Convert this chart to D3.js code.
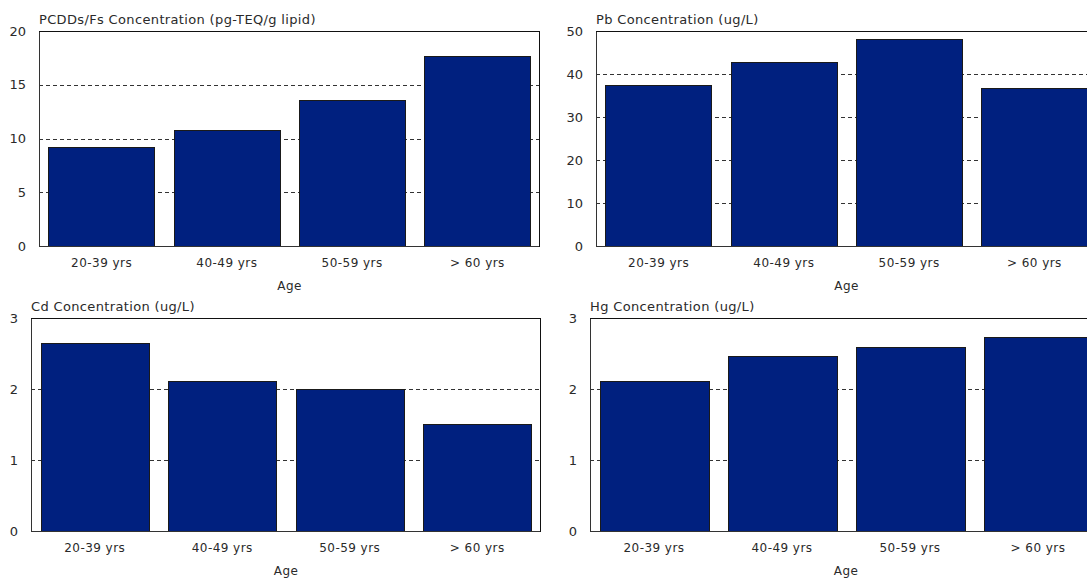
<!DOCTYPE html>
<html><head><meta charset="utf-8">
<script src="https://cdn.jsdelivr.net/npm/d3@7"></script>
<style>
body{margin:0;background:#fff;}
svg text{font-family:"DejaVu Sans",sans-serif;fill:#2a2a2a;}
</style></head>
<body><svg id="c" width="1087" height="578"></svg>
<script>
const categories = ["20-39 yrs","40-49 yrs","50-59 yrs","> 60 yrs"];
const pcddValues = [9.2, 10.8, 13.6, 17.7];
const pbValues = [37.4, 42.8, 48.1, 36.7];
const cdValues = [2.65, 2.11, 2.0, 1.51];
const hgValues = [2.11, 2.46, 2.59, 2.73];
const pcddTicks = [0,5,10,15,20];
const pbTicks = [0,10,20,30,40,50];
const cdTicks = [0,1,2,3];
const hgTicks = [0,1,2,3];
const titles = ["PCDDs/Fs Concentration (pg-TEQ/g lipid)","Pb Concentration (ug/L)","Cd Concentration (ug/L)","Hg Concentration (ug/L)"];
const xTitle = "Age";

const panels = [
  {title:titles[0], values:pcddValues, ticks:pcddTicks, l:39, r:540, t:31, b:246},
  {title:titles[1], values:pbValues, ticks:pbTicks, l:596, r:1097, t:31, b:246},
  {title:titles[2], values:cdValues, ticks:cdTicks, l:31, r:541, t:318, b:531},
  {title:titles[3], values:hgValues, ticks:hgTicks, l:590, r:1102, t:318, b:531}
];

const svg = d3.select("#c");
panels.forEach(p => {
  const g = svg.append("g");
  const x = d3.scaleBand().domain(categories).range([p.l, p.r]).paddingInner(0.15).paddingOuter(0.075);
  const y = d3.scaleLinear().domain([0, d3.max(p.ticks)]).range([p.b, p.t]);
  // grid
  g.selectAll("line.grid").data(p.ticks.filter(t => t > 0 && t < d3.max(p.ticks))).join("line")
    .attr("x1", p.l).attr("x2", p.r)
    .attr("y1", d => Math.round(y(d)) + 0.5).attr("y2", d => Math.round(y(d)) + 0.5)
    .attr("stroke", "#333").attr("stroke-dasharray", "4,3");
  // bars
  g.selectAll("rect.bar").data(p.values).join("rect")
    .attr("x", (d,i) => Math.round(x(categories[i])) + 0.5)
    .attr("y", d => Math.round(y(d)) + 0.5)
    .attr("width", Math.round(x.bandwidth()))
    .attr("height", d => Math.round(y(0)) - Math.round(y(d)))
    .attr("fill", "#00207f").attr("stroke", "#1a1a1a").attr("stroke-width", 1);
  // frame
  g.append("line").attr("x1", p.l+0.5).attr("x2", p.l+0.5).attr("y1", p.t).attr("y2", p.b+1).attr("stroke", "#333");
  g.append("line").attr("x1", p.l).attr("x2", p.r).attr("y1", p.t+0.5).attr("y2", p.t+0.5).attr("stroke", "#111");
  g.append("line").attr("x1", p.l).attr("x2", p.r).attr("y1", p.b+0.5).attr("y2", p.b+0.5).attr("stroke", "#333");
  g.append("line").attr("x1", p.r-0.5).attr("x2", p.r-0.5).attr("y1", p.t).attr("y2", p.b+1).attr("stroke", "#111");
  // y tick labels
  const ya = d3.axisLeft(y).tickValues(p.ticks).tickFormat(d3.format("d")).tickSize(0).tickPadding(13);
  const yg = g.append("g").attr("transform", `translate(${p.l},0)`).call(ya);
  yg.select(".domain").remove();
  yg.selectAll("text").style("font-size", "13px").style("font-family", '"DejaVu Sans",sans-serif').attr("fill", "#2a2a2a");
  // x tick labels
  const xa = d3.axisBottom(x).tickSize(0).tickPadding(12);
  const xg = g.append("g").attr("transform", `translate(0,${p.b})`).call(xa);
  xg.select(".domain").remove();
  xg.selectAll("text").style("font-size", "12px").style("letter-spacing", "0.45px").style("font-family", '"DejaVu Sans",sans-serif').attr("fill", "#2a2a2a");
  // titles
  g.append("text").attr("x", p.l).attr("y", p.t - 7).style("font-size", "13px").style("letter-spacing", "0.35px").text(p.title);
  g.append("text").attr("x", (p.l + p.r)/2).attr("y", p.b + 44).attr("text-anchor", "middle").style("font-size", "12px").style("letter-spacing", "0.45px").text(xTitle);
});
</script></body></html>
